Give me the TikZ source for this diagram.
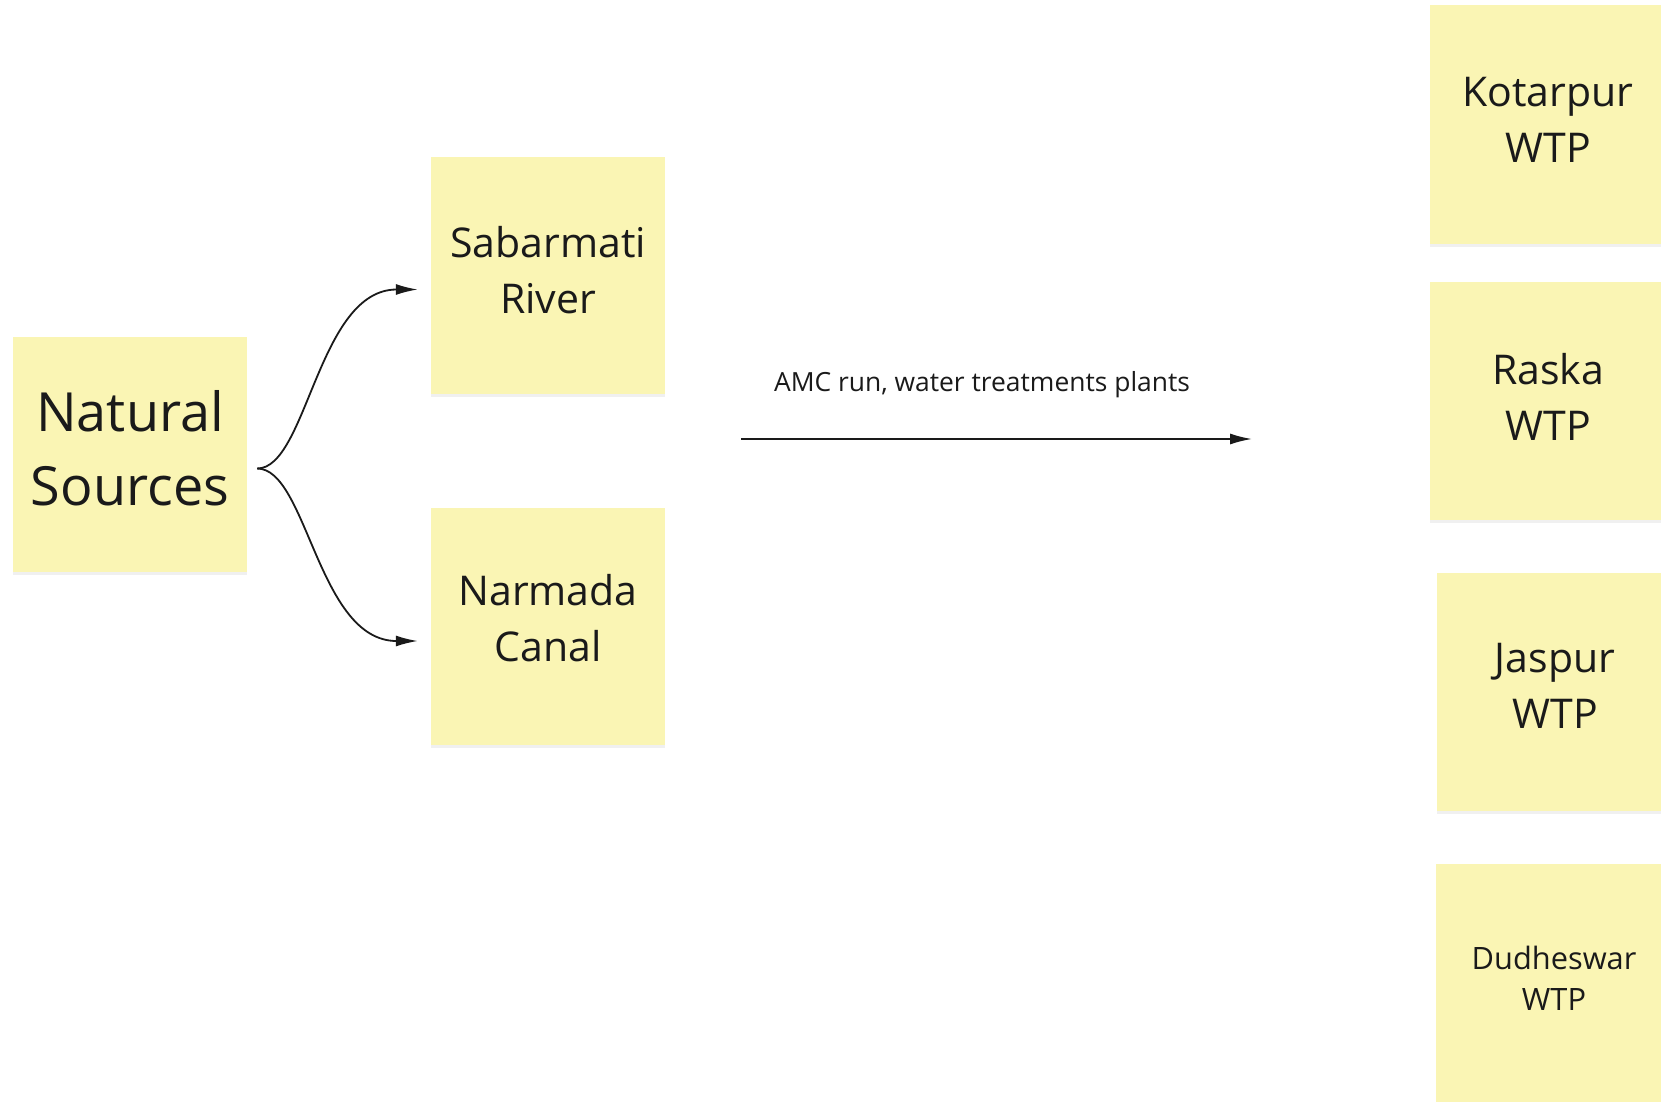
\documentclass[tikz,border=0pt]{standalone}
\usepackage{fontspec}
\setmainfont{Open Sans}
\usetikzlibrary{arrows.meta,shadows}
\definecolor{sticky}{HTML}{FAF5B4}
\definecolor{ink}{HTML}{1A1A1A}
\tikzset{
  note/.style={fill=sticky, draw=none, minimum width=234pt, minimum height=237pt,
    inner sep=0pt,
    drop shadow={opacity=0.12, shadow xshift=0pt, shadow yshift=-3pt}},
  txt/.style={align=center, inner sep=0pt, text=ink},
  big/.style={txt, font=\fontsize{54}{74}\selectfont},
  mid/.style={txt, font=\fontsize{41}{56}\selectfont},
  small/.style={txt, font=\fontsize{30.8}{41}\selectfont},
  conn/.style={line width=1.8pt, draw=ink, -{Latex[length=22pt,width=11pt]}},
  lbl/.style={font=\fontsize{26.4}{32}\selectfont, text=ink, inner sep=0pt}
}
\begin{document}
\begin{tikzpicture}[x=1pt,y=-1pt]
\useasboundingbox (0,0) rectangle (1661,1101);
\clip (0,0) rectangle (1661,1101);
\node[note,minimum height=235pt] (ns) at (130,454.5) {};
\node[note] (sab) at (548,275.5) {};
\node[note] (nar) at (548,626) {};
\node[note,minimum width=236pt,minimum height=239pt] (kot) at (1548,124.5) {};
\node[note,minimum width=236pt,minimum height=238pt] (ras) at (1548,401) {};
\node[note,minimum width=236pt,minimum height=238pt] (jas) at (1555,692) {};
\node[note,minimum width=236pt,minimum height=238pt] (dud) at (1554,983) {};
\node[big] (nst) at ([yshift=6.5pt]ns.center) {Natural\\Sources};
\node[mid] (sabt) at ([yshift=5.5pt]sab.center) {Sabarmati\\River};
\node[mid] (nart) at ([yshift=8pt]nar.center) {Narmada\\Canal};
\node[mid] (kott) at ([yshift=4.5pt]kot.center) {Kotarpur\\WTP};
\node[mid] (rast) at ([yshift=4.5pt]ras.center) {Raska\\WTP};
\node[mid] (jast) at ([yshift=6pt]jas.center) {Jaspur\\WTP};
\node[small] (dudt) at ([yshift=5pt]dud.center) {Dudheswar\\WTP};
\coordinate (src) at ([shift={(10,14)}]ns.east);
\draw[conn] (src) .. controls +(50,0) and ([shift={(-113,14)}]sab.west) .. ([shift={(-13,14)}]sab.west);
\draw[conn] (src) .. controls +(50,0) and ([shift={(-113,15)}]nar.west) .. ([shift={(-13,15)}]nar.west);
\coordinate (a1) at (741,439);
\coordinate (a2) at (1252,439);
\draw[conn] (a1) -- (a2);
\node[lbl] (amc) at (982,385) {AMC run, water treatments plants};
\end{tikzpicture}
\end{document}
